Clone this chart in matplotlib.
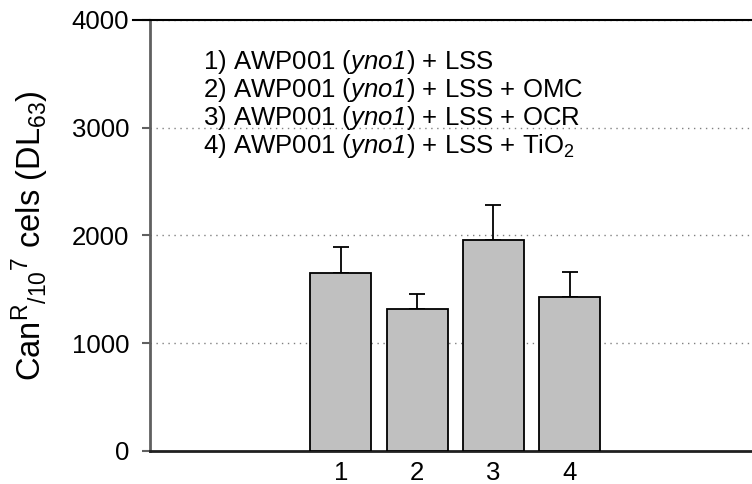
import matplotlib
matplotlib.use("Agg")
import matplotlib.pyplot as plt

plt.rcParams['font.family'] = ['Liberation Sans', 'DejaVu Sans']
plt.rcParams['mathtext.fontset'] = 'custom'
plt.rcParams['mathtext.rm'] = 'Liberation Sans'
plt.rcParams['mathtext.it'] = 'Liberation Sans:italic'
plt.rcParams['mathtext.sf'] = 'Liberation Sans:italic'
plt.rcParams['mathtext.bf'] = 'Liberation Sans:bold'

# Mutation frequencies per strain/treatment
categories = ['1', '2', '3', '4']
means = [1650, 1320, 1960, 1430]
errors = [240, 140, 320, 230]
yticks = [0, 1000, 2000, 3000, 4000]
legend_lines = [
    r'1) AWP001 ($\mathsf{yno1}$) + LSS',
    r'2) AWP001 ($\mathsf{yno1}$) + LSS + OMC',
    r'3) AWP001 ($\mathsf{yno1}$) + LSS + OCR',
    r'4) AWP001 ($\mathsf{yno1}$) + LSS + TiO$_{\mathregular{2}}$',
]

fig = plt.figure(figsize=(7.52, 4.84), dpi=100)
ax = fig.add_axes([0.1995, 0.0682, 0.8005, 0.8905])

pos = list(range(1, len(categories) + 1))
ax.bar(pos, means, width=0.8, color='#c0c0c0', edgecolor='black',
       linewidth=1.3, zorder=3)
ax.errorbar(pos, means, yerr=[[0] * len(errors), errors], fmt='none',
            ecolor='black', elinewidth=1.3, capsize=6, capthick=1.3, zorder=2)

ax.set_xlim(-1.5, 6.39)
ax.set_ylim(0, 4000)
ax.set_yticks(yticks)
ax.set_xticks(pos)
ax.set_xticklabels(categories)

# dotted horizontal reference lines
for v in yticks[1:]:
    ax.axhline(v, color='#808080', linewidth=1, linestyle=(0, (1, 3.3)), zorder=1)

ax.spines['right'].set_visible(False)
ax.spines['left'].set_color('#606060')
ax.spines['left'].set_linewidth(2)
ax.spines['bottom'].set_color('#202020')
ax.spines['bottom'].set_linewidth(2)
ax.spines['top'].set_color('black')
ax.spines['top'].set_linewidth(1.5)
ax.plot([-0.028, 0], [1, 1], transform=ax.transAxes, color='black',
        linewidth=1.5, clip_on=False)

ax.tick_params(axis='y', direction='out', length=6, width=1.5,
               color='#606060', labelsize=18.5, pad=9)
ax.tick_params(axis='x', length=0, labelsize=18.5, pad=7)

ax.set_ylabel(r'Can$^{\mathregular{R}}$$_{\mathregular{/10}}$$^{\mathregular{7}}$ cels (DL$_{\mathregular{63}}$)',
              fontsize=23.5, labelpad=15)

# key lines, one per row
row_y = [0.8852, 0.8202, 0.7552, 0.6903]
for y, line in zip(row_y, legend_lines):
    ax.text(0.088, y, line, transform=ax.transAxes, fontsize=18.5,
            va='baseline', ha='left', zorder=4)

fig.savefig('out.png', dpi=100)
